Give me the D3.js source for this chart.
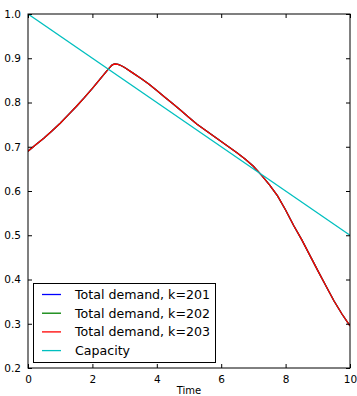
<!DOCTYPE html>
<html>
<head>
<meta charset="utf-8">
<script src="https://cdn.jsdelivr.net/npm/d3@7"></script>
<style>
  body { margin: 0; background: #fff; }
  svg { display: block; font-family: "DejaVu Sans", sans-serif; }
</style>
</head>
<body>
<div id="chart"></div>
<script>
// time points
const time = [0, 0.25, 0.5, 0.75, 1.0, 1.25, 1.5, 1.75, 2.0, 2.25, 2.5, 2.55, 2.6, 2.65, 2.7, 2.8, 2.9,
  3.0, 3.25, 3.5, 3.75, 4.0, 4.25, 4.5, 4.75, 5.0, 5.25, 5.5, 5.75, 6.0, 6.25, 6.5,
  6.75, 7.0, 7.25, 7.5, 7.75, 8.0, 8.25, 8.5, 8.75, 9.0, 9.25, 9.5, 9.75, 10.0];
const demand203 = [0.690, 0.705, 0.720, 0.736, 0.753, 0.772, 0.791, 0.811, 0.832, 0.854,
  0.876, 0.880, 0.884, 0.886, 0.887, 0.886, 0.883, 0.879, 0.867, 0.855, 0.842, 0.827, 0.812,
  0.797, 0.782, 0.766, 0.751, 0.738, 0.725, 0.712, 0.699, 0.686, 0.672, 0.656, 0.636,
  0.614, 0.589, 0.557, 0.522, 0.490, 0.455, 0.420, 0.386, 0.352, 0.322, 0.295];
// the other two runs sit exactly under k=203 in the picture
const demand201 = demand203.slice();
const demand202 = demand203.slice();
const capTime = [0, 10];
const capacity = [1.0, 0.5];

const xTicks = [0, 2, 4, 6, 8, 10];
const yTicks = [0.2, 0.3, 0.4, 0.5, 0.6, 0.7, 0.8, 0.9, 1.0];
const seriesNames = ['Total demand, k=201', 'Total demand, k=202', 'Total demand, k=203', 'Capacity'];
const seriesColors = ['#0000ff', '#008000', '#ff0000', '#00bfbf'];

const W = 357, H = 396;
const margin = { top: 14, right: 7, bottom: 28, left: 28 };
const iw = W - margin.left - margin.right;
const ih = H - margin.top - margin.bottom;

const svg = d3.select('#chart').append('svg').attr('width', W).attr('height', H);
const g = svg.append('g').attr('transform', 'translate(' + margin.left + ',' + margin.top + ')');

const x = d3.scaleLinear().domain([0, 10]).range([0, iw]);
const y = d3.scaleLinear().domain([0.2, 1.0]).range([ih, 0]);

svg.append('defs').append('clipPath').attr('id', 'clip')
  .append('rect').attr('width', iw).attr('height', ih);

const plot = g.append('g').attr('clip-path', 'url(#clip)');
const line = d3.line().x(d => x(d[0])).y(d => y(d[1]));

const series = [
  time.map((t, i) => [t, demand201[i]]),
  time.map((t, i) => [t, demand202[i]]),
  time.map((t, i) => [t, demand203[i]]),
  capTime.map((t, i) => [t, capacity[i]])
];
series.forEach((s, i) => {
  plot.append('path').datum(s)
    .attr('d', line)
    .attr('fill', 'none')
    .attr('stroke', seriesColors[i])
    .attr('stroke-width', 1.3);
});

// axes: classic style, ticks inward on all four sides
const fmtY = d3.format('.1f');
const tickLen = 4;
const axB = g.append('g').attr('transform', 'translate(0,' + ih + ')')
  .call(d3.axisBottom(x).tickValues(xTicks).tickSizeInner(-tickLen).tickSizeOuter(0).tickPadding(8));
const axT = g.append('g')
  .call(d3.axisTop(x).tickValues(xTicks).tickSizeInner(-tickLen).tickSizeOuter(0).tickFormat(''));
const axL = g.append('g')
  .call(d3.axisLeft(y).tickValues(yTicks).tickSizeInner(-tickLen).tickSizeOuter(0).tickPadding(7).tickFormat(fmtY));
const axR = g.append('g').attr('transform', 'translate(' + iw + ',0)')
  .call(d3.axisRight(y).tickValues(yTicks).tickSizeInner(-tickLen).tickSizeOuter(0).tickFormat(''));

[axB, axT, axL, axR].forEach(a => {
  a.select('.domain').remove();
  a.selectAll('line').attr('stroke', '#000').attr('stroke-width', 1);
  a.selectAll('text').attr('fill', '#000').style('font-size', '10.5px')
    .style('font-family', '"DejaVu Sans", sans-serif');
});

g.append('rect').attr('width', iw).attr('height', ih)
  .attr('fill', 'none').attr('stroke', '#000').attr('stroke-width', 1);

g.append('text').attr('x', iw / 2).attr('y', ih + 26)
  .attr('text-anchor', 'middle').style('font-size', '10px').text('Time');

// legend
const lg = svg.append('g').attr('transform', 'translate(33.5,283.5)');
lg.append('rect').attr('width', 182).attr('height', 79)
  .attr('fill', '#fff').attr('stroke', '#000').attr('stroke-width', 1);
seriesNames.forEach((name, i) => {
  const cy = 11 + i * 18.7;
  lg.append('line').attr('x1', 8.5).attr('x2', 27.5).attr('y1', cy).attr('y2', cy)
    .attr('stroke', seriesColors[i]).attr('stroke-width', 1.3);
  lg.append('text').attr('x', 41.5).attr('y', cy + 4.5)
    .style('font-size', '12.6px').attr('fill', '#000').text(name);
});
</script>
</body>
</html>
